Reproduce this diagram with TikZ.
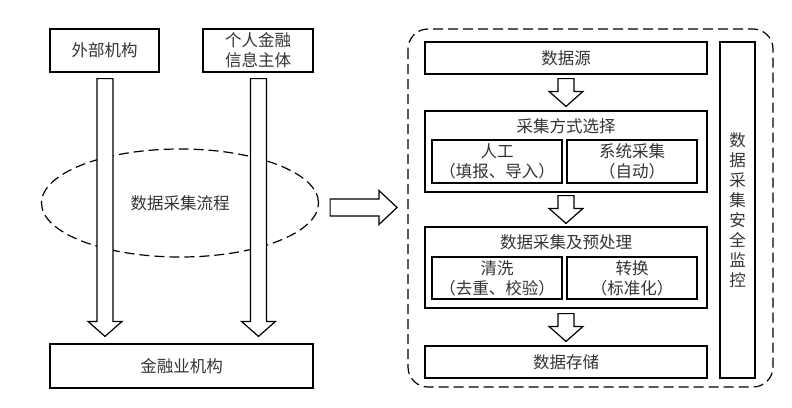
\documentclass[tikz,border=0pt]{standalone}
\usepackage{fontspec}
\newfontfamily\cjk{Noto Sans CJK SC}
\usetikzlibrary{calc,shapes.geometric}

% block arrow pointing down: #1 start, #2 tip
\newcommand{\fatdown}[2]{%
  \draw[fatarrow] let \p1=(#1), \p2=(#2) in
    (\x1-8pt,\y1) -- (\x1+8pt,\y1) -- (\x1+8pt,\y2+15pt) -- (\x1+17pt,\y2+15pt)
    -- (\x1,\y2) -- (\x1-17pt,\y2+15pt) -- (\x1-8pt,\y2+15pt) -- cycle;}
% block arrow pointing right
\newcommand{\fatright}[2]{%
  \draw[fatarrow] let \p1=(#1), \p2=(#2) in
    (\x1,\y1+8.5pt) -- (\x2-18pt,\y1+8.5pt) -- (\x2-18pt,\y1+17pt) -- (\x2,\y1)
    -- (\x2-18pt,\y1-17pt) -- (\x2-18pt,\y1-8.5pt) -- (\x1,\y1-8.5pt) -- cycle;}

\begin{document}
\begin{tikzpicture}[
  x=1pt, y=-1pt,
  box/.style={rectangle, draw, line width=1.2pt, inner sep=0pt, align=center,
    text=black!80, font=\cjk\fontsize{16.5}{20}\selectfont},
  wide/.style={box, minimum width=282pt, minimum height=32pt},
  group/.style={box, minimum width=282pt, minimum height=81pt},
  sub/.style={box, minimum width=130pt, minimum height=43pt},
  label/.style={text=black!80, font=\cjk\fontsize{16.5}{20}\selectfont, inner sep=0pt},
  fatarrow/.style={draw, fill=white, line width=1.2pt, line join=miter},
  dashline/.style={draw, line width=1.2pt, dash pattern=on 10pt off 5pt}
]
\useasboundingbox (0,0) rectangle (792,407);

% left part
\node[box, minimum width=109pt, minimum height=43pt] (ext) at (104.5,50.5) {外部机构};
\node[box, minimum width=110pt, minimum height=43pt] (subj) at (258,50.5) {个人金融\\信息主体};
\node[box, minimum width=263pt, minimum height=44pt] (fin) at (181.5,366) {金融业机构};
\node[ellipse, dashline, minimum width=277pt, minimum height=108pt, inner sep=0pt] (flow) at (180,203) {};
\node[label] (flowt) at (flow.center) {数据采集流程};

\coordinate (l1) at ($(ext.south)+(0.5,6)$);
\coordinate (l2) at ($(fin.north -| l1)+(0,-7)$);
\coordinate (r1) at ($(subj.south)+(0.5,6)$);
\coordinate (r2) at ($(fin.north -| r1)+(0,-7)$);
\fatdown{l1}{l2}
\fatdown{r1}{r2}

% right part
\draw[dashline, rounded corners=20pt] (408,29) rectangle (773,387);
\node[wide] (src) at (566,58) {数据源};
\node[group] (sel) at (566,151.5) {};
\node[label] (selt) at ($(sel.north)+(0,16)$) {采集方式选择};
\node[sub] (man) at (497,161.5) {人工\\（填报、导入）};
\node[sub] (sys) at (632,161.5) {系统采集\\（自动）};
\node[group] (pre) at (566,267.5) {};
\node[label] (pret) at ($(pre.north)+(0,16)$) {数据采集及预处理};
\node[sub, minimum height=42pt] (clean) at (497,278) {清洗\\（去重、校验）};
\node[sub, minimum height=42pt] (conv) at (632,278) {转换\\（标准化）};
\node[wide] (store) at (566,362) {数据存储};
\node[box, minimum width=35pt, minimum height=336pt] (sec) at (737.5,210)
  {数\\据\\采\\集\\安\\全\\监\\控};

\coordinate (a1) at ($(src.south)+(0,4)$);
\coordinate (b1) at ($(sel.north)+(0,-4)$);
\coordinate (a2) at ($(sel.south)+(0,3)$);
\coordinate (b2) at ($(pre.north)+(0,-3)$);
\coordinate (a3) at ($(pre.south)+(0,5)$);
\coordinate (b3) at ($(store.north)+(0,-4)$);
\fatdown{a1}{b1}
\fatdown{a2}{b2}
\fatdown{a3}{b3}

% link between the two parts
\coordinate (h1) at ($(flow.east)+(11,4.5)$);
\coordinate (h2) at (397,207.5);
\fatright{h1}{h2}
\end{tikzpicture}
\end{document}
